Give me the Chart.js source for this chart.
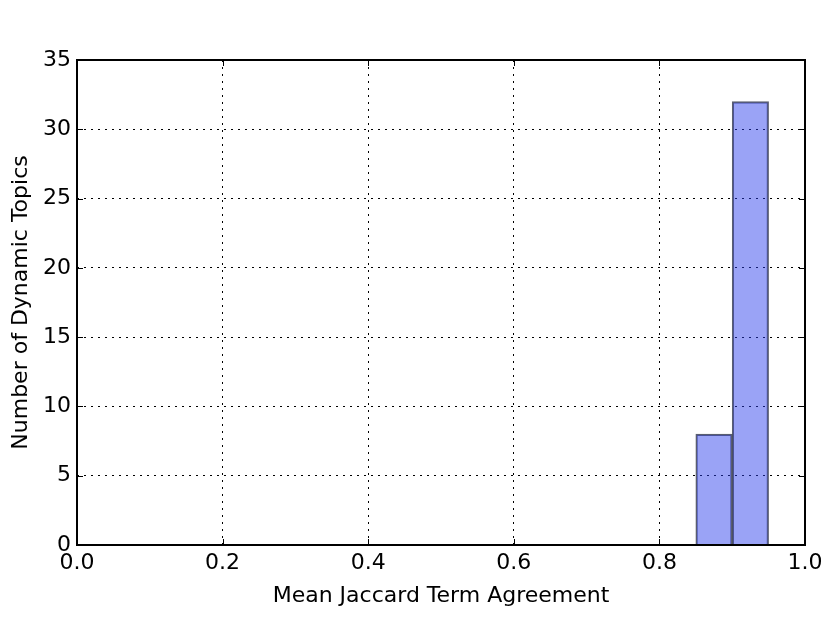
<!DOCTYPE html>
<html><head><meta charset="utf-8">
<script src="https://cdn.jsdelivr.net/npm/chart.js@4/dist/chart.umd.min.js"></script>
<style>html,body{margin:0;padding:0;background:#fff}#wrap{width:830px;height:624px}</style>
</head><body><div id="wrap"><canvas id="c" width="830" height="624"></canvas></div>
<script>
const binCenters = [0.875, 0.925];
const binCounts = [8, 32];
const xTicks = [0.0, 0.2, 0.4, 0.6, 0.8, 1.0];
const yTicks = [0, 5, 10, 15, 20, 25, 30, 35];
const xTitle = 'Mean Jaccard Term Agreement';
const yTitle = 'Number of Dynamic Topics';

const FONT = 'DejaVu Sans';
const FS = 22;
const PLOT = {left: 77, right: 805, top: 60, bottom: 545};

const framePlugin = {
  id: 'frame',
  afterDraw(chart) {
    const ctx = chart.ctx, a = chart.chartArea;
    const xs = chart.scales.x, ys = chart.scales.y;
    ctx.save();
    ctx.strokeStyle = '#000';
    ctx.lineWidth = 1;
    const L = 6;
    xs.ticks.forEach(t => {
      const px = Math.round(xs.getPixelForValue(t.value)) + 0.5;
      ctx.beginPath();
      ctx.moveTo(px, a.bottom); ctx.lineTo(px, a.bottom - L);
      ctx.moveTo(px, a.top); ctx.lineTo(px, a.top + L);
      ctx.stroke();
    });
    ys.ticks.forEach(t => {
      const py = Math.round(ys.getPixelForValue(t.value)) + 0.5;
      ctx.beginPath();
      ctx.moveTo(a.left, py); ctx.lineTo(a.left + L, py);
      ctx.moveTo(a.right, py); ctx.lineTo(a.right - L, py);
      ctx.stroke();
    });
    ctx.lineWidth = 2;
    ctx.strokeRect(a.left, a.top, a.right - a.left, a.bottom - a.top);
    ctx.restore();
  }
};

new Chart(document.getElementById('c'), {
  type: 'bar',
  data: {
    datasets: [{
      data: binCenters.map((x, i) => ({x: x, y: binCounts[i]})),
      backgroundColor: 'rgba(40,60,235,0.47)',
      borderColor: 'rgba(20,25,50,0.7)',
      borderWidth: 1.5,
      barPercentage: 1,
      categoryPercentage: 1
    }]
  },
  options: {
    responsive: false,
    animation: false,
    devicePixelRatio: 1,
    layout: {padding: {top: PLOT.top, right: 830 - PLOT.right, left: 0, bottom: 0}},
    plugins: {legend: {display: false}, tooltip: {enabled: false}},
    scales: {
      x: {
        type: 'linear', min: 0, max: 1, offset: false,
        afterBuildTicks(s) { s.ticks = xTicks.map(v => ({value: v})); },
        afterFit(s) { s.height = 624 - PLOT.bottom; },
        ticks: {color: '#000', font: {family: FONT, size: FS}, padding: 5,
          callback: v => v.toFixed(1), maxRotation: 0},
        grid: {color: '#000', lineWidth: 1, drawTicks: false, offset: false},
        border: {display: false, dash: [2, 5]},
        title: {display: true, text: xTitle, color: '#000', font: {family: FONT, size: FS}, padding: {top: 4, bottom: 15}}
      },
      y: {
        min: 0, max: 35,
        afterBuildTicks(s) { s.ticks = yTicks.map(v => ({value: v})); },
        afterFit(s) { s.width = PLOT.left; },
        ticks: {color: '#000', font: {family: FONT, size: FS}, padding: 6},
        grid: {color: '#000', lineWidth: 1, drawTicks: false},
        border: {display: false, dash: [2, 5]},
        title: {display: true, text: yTitle, color: '#000', font: {family: FONT, size: FS}, padding: {bottom: 0, top: 8}}
      }
    }
  },
  plugins: [framePlugin]
});
</script></body></html>
